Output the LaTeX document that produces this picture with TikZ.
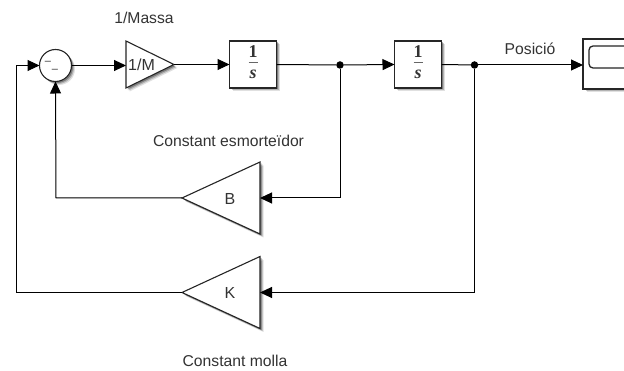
\documentclass[tikz,border=0pt]{standalone}
\usepackage{fontspec}
\setmainfont{Liberation Sans}
\newfontfamily\serifnum{Liberation Serif}
\usetikzlibrary{arrows.meta,calc}
\definecolor{ink}{HTML}{333333}
\tikzset{
  softshadow/.style={
    preaction={fill=black,fill opacity=.12,draw=none,transform canvas={shift={(3.5pt,-3.5pt)}}},
    preaction={fill=black,fill opacity=.20,draw=none,transform canvas={shift={(2.5pt,-2.5pt)}}},
    preaction={fill=black,fill opacity=.30,draw=none,transform canvas={shift={(1.5pt,-1.5pt)}}}},
  blockbox/.style={draw=black!85,line width=1.1pt,fill=white,softshadow,minimum width=47pt,minimum height=47pt,inner sep=0pt,outer sep=0pt},
  tribody/.style={draw=black!85,line width=1.1pt,fill=white,softshadow,line join=miter},
  sumbody/.style={circle,draw=black!85,line width=1.1pt,fill=white,softshadow,minimum size=32pt,inner sep=0pt,outer sep=0pt},
  wire/.style={draw=black,line width=1pt,-{Triangle[length=12pt,width=11pt]}},
  plainwire/.style={draw=black,line width=1pt},
  dotnode/.style={circle,fill=black,minimum size=7.5pt,inner sep=0pt,outer sep=0pt},
  lbl/.style={font=\fontsize{15.7}{18}\selectfont,text=ink,inner sep=0pt},
  blocktext/.style={font=\fontsize{16}{18}\selectfont,text=ink,inner sep=0pt},
  intfrac/.style={font=\fontsize{18}{18}\selectfont\serifnum,text=ink,inner sep=0pt}
}
\newcommand{\intlabel}[1]{%
  \node[intfrac] at ($(#1)+(0,-13)$) {\textbf{1}};
  \node[intfrac] at ($(#1)+(0,9.5)$) {\textbf{\textit{s}}};
  \draw[black!60,line width=1pt] ($(#1)+(-4.5,-1.5)$) -- ($(#1)+(4.5,-1.5)$);}
\begin{document}
\begin{tikzpicture}[x=1pt,y=-1pt]
\clip (0,0) rectangle (624,371);
\fill[white] (0,0) rectangle (624,371);
% blocks
\node[sumbody] (sum) at (55.5,65.5) {};
\node[inner sep=0pt,outer sep=0pt,minimum width=48pt,minimum height=47pt] (gain) at (150,64.5) {};
\path[tribody] (gain.north west) -- (gain.east) -- (gain.south west) -- cycle;
\node[blockbox] (intA) at (253,64.5) {};
\node[blockbox] (intB) at (418,64.5) {};
\node[blockbox,minimum width=50pt,minimum height=50pt,anchor=west] (scope) at (583,64) {};
\draw[black!85,line width=1.3pt,rounded corners=4pt] (589,46) rectangle (640,68);
\node[inner sep=0pt,outer sep=0pt,minimum width=78pt,minimum height=72pt] (gainB) at (221,198) {};
\path[tribody] (gainB.north east) -- (gainB.west) -- (gainB.south east) -- cycle;
\node[inner sep=0pt,outer sep=0pt,minimum width=78pt,minimum height=72pt] (gainK) at (221,292.5) {};
\path[tribody] (gainK.north east) -- (gainK.west) -- (gainK.south east) -- cycle;
% block text
\node[lbl,font=\fontsize{11}{12}\selectfont] (minusA) at (48,62.5) {–};
\node[lbl,font=\fontsize{11}{12}\selectfont] (minusB) at (55,71) {–};
\node[blocktext] (gaintext) at (141.5,65) {1/M};
\node[blocktext] (btext) at (230,198.5) {B};
\node[blocktext] (ktext) at (230,293) {K};
\intlabel{intA}
\intlabel{intB}
% labels
\node[lbl] (massa) at (144,18) {1/Massa};
\node[lbl] (posicio) at (530,49) {Posició};
\node[lbl] (esm) at (228.5,141) {Constant esmorteïdor};
\node[lbl] (molla) at (235,361) {Constant molla};
% junctions
\node[dotnode] (j1) at (340,65) {};
\node[dotnode] (j2) at (474.5,65) {};
\coordinate (cornerA) at (16,292.5);
\coordinate (cornerB) at (16,65.5);
\coordinate (cornerC) at (56,198);
% connectors
\draw[wire] (sum.east) -- (gain.west |- sum.east);
\draw[wire] (gain.east) -- (intA.west);
\draw[plainwire] (intA.east) -- (j1);
\draw[wire] (j1) -- (intB.west);
\draw[plainwire] (intB.east) -- (j2);
\draw[wire] (j2) -- (scope.west |- j2);
\draw[wire] (j1) |- (gainB.east);
\draw[wire] (j2) |- (gainK.east);
\draw[wire] (gainB.west) -- (cornerC) -- (sum.south);
\draw[wire] (gainK.west) -- (cornerA) -- (cornerB) -- (sum.west);
\end{tikzpicture}
\end{document}
